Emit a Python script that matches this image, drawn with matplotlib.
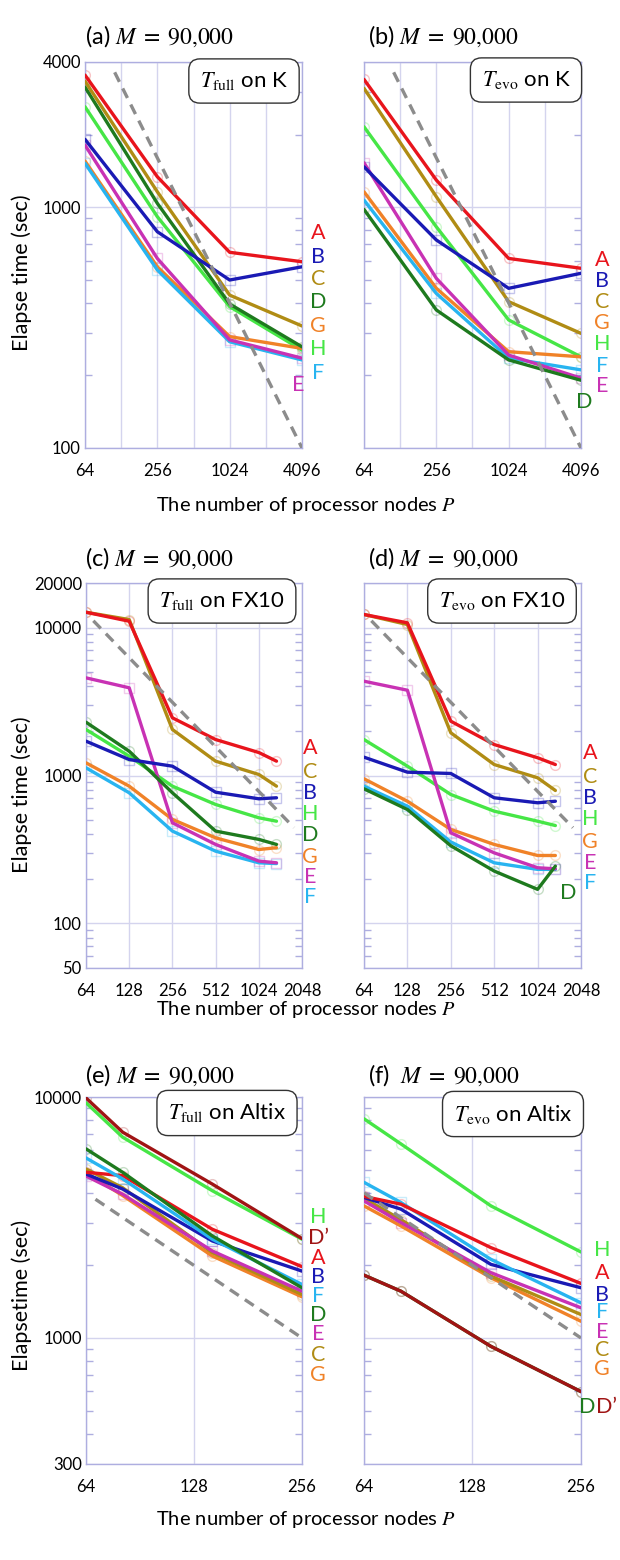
import numpy as np
import matplotlib.pyplot as plt
from matplotlib.ticker import FixedLocator, LogLocator, NullFormatter

plt.rcParams['font.family'] = ['Lato', 'DejaVu Sans']
plt.rcParams['mathtext.fontset'] = 'stix'

# ---- data (elapse time in seconds) ----
P_K = [64, 256, 1024, 4096]
P_FX = [64, 128, 256, 512, 1024, 1360]
P_ALT = [64, 81, 144, 256]

full_K = {
    'H': [2608, 912, 386, 255],
    'G': [1552, 565, 290, 259],
    'F': [1520, 548, 276, 232],
    'E': [1808, 612, 281, 236],
    'D': [3150, 1036, 396, 263],
    'C': [3330, 1157, 431, 321],
    'B': [1910, 790, 498, 565],
    'A': [3530, 1336, 649, 593],
}
evo_K = {
    'H': [2154, 828, 340, 239],
    'G': [1157, 460, 251, 239],
    'F': [1069, 438, 236, 211],
    'E': [1527, 506, 243, 195],
    'D': [978, 374, 232, 191],
    'C': [3110, 1104, 405, 299],
    'B': [1469, 730, 460, 531],
    'A': [3388, 1294, 612, 557],
}
full_FX = {
    'H': [2046, 1350, 847, 637, 518, 491],
    'G': [1218, 847, 505, 379, 316, 325],
    'F': [1127, 764, 421, 308, 257, 254],
    'E': [4571, 3915, 479, 342, 264, 257],
    'D': [2292, 1459, 764, 421, 370, 342],
    'B': [1706, 1282, 1156, 771, 696, 707],
    'C': [12690, 11320, 2046, 1250, 1016, 847],
    'A': [12690, 11030, 2454, 1750, 1430, 1250],
}
evo_FX = {
    'H': [1750, 1156, 744, 574, 491, 459],
    'G': [950, 670, 432, 342, 288, 288],
    'F': [847, 620, 355, 257, 232, 232],
    'E': [4337, 3770, 410, 300, 238, 234],
    'D': [813, 589, 335, 226, 170, 244],
    'B': [1330, 1053, 1032, 707, 654, 670],
    'C': [12250, 10480, 1944, 1186, 965, 792],
    'A': [12250, 10760, 2328, 1619, 1318, 1186],
}
full_ALT = {
    'G': [4850, 3900, 2188, 1482],
    'C': [5026, 4200, 2261, 1515],
    'E': [4700, 3950, 2296, 1564],
    'B': [4790, 4150, 2527, 1895],
    'A': [4870, 4717, 2826, 1977],
    'F': [5585, 4571, 2570, 1668],
    'D': [6093, 4870, 2651, 1616],
    'H': [9465, 6810, 4083, 2570],
    "D'": [9910, 7145, 4351, 2585],
}
evo_ALT = {
    'G': [3533, 2918, 1778, 1173],
    'C': [3800, 3100, 1806, 1251],
    'E': [3707, 3014, 1866, 1334],
    'B': [3830, 3425, 2020, 1616],
    'F': [4425, 3651, 2120, 1399],
    'A': [3868, 3592, 2371, 1684],
    'H': [8120, 6390, 3533, 2274],
    'D': [1823, 1564, 923, 599],
    "D'": [1823, 1564, 923, 599],
}

colors = {
    'A': '#e8141c', 'B': '#1a1ab4', 'C': '#b08c14', 'D': '#1e7a1e',
    'E': '#c832b4', 'F': '#28b4f0', 'G': '#f08228', 'H': '#46e646',
    "D'": '#a01414',
}
markers = {'A': 'o', 'B': 's', 'C': 'o', 'D': 'o', 'E': 's', 'F': 's',
           'G': 'o', 'H': 'o', "D'": 'o'}

W, H = 620, 1560
fig = plt.figure(figsize=(W / 100, H / 100), dpi=100)


def box(x0, y0, x1, y1):
    return [x0 / W, 1 - y1 / H, (x1 - x0) / W, (y1 - y0) / H]


def fxy(x, y):
    return x / W, 1 - y / H


grid_c = '#d4d4ee'
spine_c = '#aeaee0'


def panel(rect, P, data, ylim, yticks, ylabels, xgrid, xlabels, ideal):
    ax = fig.add_axes(box(*rect))
    ax.set_xscale('log', base=2)
    ax.set_yscale('log')
    ax.set_xlim(xgrid[0], xgrid[-1])
    ax.set_ylim(*ylim)
    for name, vals in data.items():
        ax.plot(P, vals, color=colors[name], lw=2.4, solid_capstyle='round', zorder=3)
        ax.plot(P, vals, ls='none', marker=markers[name], ms=7, mfc='none',
                mec=colors[name], mew=1.0, alpha=0.25, zorder=2)
    c, p0, p1 = ideal
    pp = np.array([p0, p1])
    ax.plot(pp, c / pp, color='#8c8c8c', lw=2.4, ls=(0, (3.2, 2.2)), zorder=4)
    ax.xaxis.set_major_locator(FixedLocator(xgrid))
    ax.set_xticklabels([str(v) if v in xlabels else '' for v in xgrid])
    ax.xaxis.set_minor_locator(FixedLocator([]))
    ax.yaxis.set_major_locator(FixedLocator(yticks))
    ax.set_yticklabels([str(v) for v in yticks] if ylabels else [''] * len(yticks))
    ax.yaxis.set_minor_locator(LogLocator(base=10, subs=range(2, 10), numticks=20))
    ax.yaxis.set_minor_formatter(NullFormatter())
    ax.tick_params(axis='x', length=0, pad=11, labelsize=12)
    ax.tick_params(axis='y', which='major', length=0, pad=3, labelsize=12)
    ax.tick_params(axis='y', which='minor', length=5, direction='in',
                   left=True, right=True, color=spine_c, width=1)
    ax.grid(True, which='major', color=grid_c, lw=1, zorder=0)
    for s in ax.spines.values():
        s.set_color(spine_c)
        s.set_linewidth(1)
    return ax


row1 = dict(P=P_K, ylim=(100, 4000), yticks=[100, 1000, 4000],
            xgrid=[64, 128, 256, 512, 1024, 2048, 4096], xlabels=[64, 256, 1024, 4096],
            ideal=(409600, 113, 4096))
row2 = dict(P=P_FX, ylim=(50, 20000), yticks=[50, 100, 1000, 10000, 20000],
            xgrid=[64, 128, 256, 512, 1024, 2048], xlabels=[64, 128, 256, 512, 1024, 2048],
            ideal=(800000, 72, 1800))
row3 = dict(P=P_ALT, ylim=(300, 10000), yticks=[300, 1000, 10000],
            xgrid=[64, 128, 256], xlabels=[64, 128, 256])

panel((85, 62, 302, 448), data=full_K, ylabels=True, **row1)
panel((364, 62, 581, 448), data=evo_K, ylabels=False, **row1)
panel((86, 583, 302, 968), data=full_FX, ylabels=True, **row2)
panel((364, 583, 581, 968), data=evo_FX, ylabels=False, **row2)
panel((86, 1097, 302, 1464), data=full_ALT, ylabels=True, ideal=(256000, 68, 256), **row3)
panel((364, 1097, 581, 1464), data=evo_ALT, ylabels=False, ideal=(256000, 64, 256), **row3)

# titles
m_txt = '$M\\;=\\;\\mathrm{90{,}000}$'
titles = [('(a) ' + m_txt, 85, 36), ('(b) ' + m_txt, 368, 36),
          ('(c) ' + m_txt, 85, 558), ('(d) ' + m_txt, 368, 558),
          ('(e) ' + m_txt, 85, 1075), ('(f)  ' + m_txt, 368, 1075)]
for t, x, y in titles:
    fig.text(*fxy(x, y), t, fontsize=17, ha='left', va='center')

# boxed captions
captions = [('$T_{\\mathrm{full}}$ on K', 244, 81), ('$T_{\\mathrm{evo}}$ on K', 526, 80),
            ('$T_{\\mathrm{full}}$ on FX10', 222, 601), ('$T_{\\mathrm{evo}}$ on FX10', 502, 601),
            ('$T_{\\mathrm{full}}$ on Altix', 227, 1113), ('$T_{\\mathrm{evo}}$ on Altix', 513, 1114)]
for t, x, y in captions:
    fig.text(*fxy(x, y), t, fontsize=16, ha='center', va='center', zorder=10,
             bbox=dict(boxstyle='round,pad=0.5,rounding_size=0.5', fc='white',
                       ec='#333333', lw=1))

# series labels at the right of each panel
labels = [
    [('A', 318, 233), ('B', 318, 257), ('C', 318, 279), ('D', 318, 302), ('G', 318, 326),
     ('H', 318, 349), ('F', 318, 373), ('E', 298, 385)],
    [('A', 602, 260), ('B', 602, 281), ('C', 602, 302), ('G', 602, 323), ('H', 602, 344),
     ('F', 602, 366), ('E', 602, 386), ('D', 584, 402)],
    [('A', 310, 748), ('C', 310, 772), ('B', 310, 793), ('H', 310, 814), ('D', 310, 835),
     ('G', 310, 857), ('E', 310, 877), ('F', 310, 897)],
    [('A', 590, 753), ('C', 590, 777), ('B', 590, 798), ('H', 590, 819), ('G', 590, 842),
     ('E', 590, 863), ('F', 590, 883), ('D', 568, 893)],
    [('H', 318, 1217), ("D'", 318, 1238), ('A', 318, 1258), ('B', 318, 1277), ('F', 318, 1296),
     ('D', 318, 1315), ('E', 318, 1334), ('C', 318, 1355), ('G', 318, 1375)],
    [('H', 602, 1250), ('A', 602, 1273), ('B', 602, 1295), ('F', 602, 1312), ('E', 602, 1332),
     ('C', 602, 1350), ('G', 602, 1369), ('D', 587, 1407), ("D'", 607, 1407)],
]
for group in labels:
    for name, x, y in group:
        txt = name.replace("'", '\u2019')
        fig.text(*fxy(x, y), txt, color=colors[name], fontsize=15.5, ha='center', va='center')

# axis labels
for y in (273, 795):
    fig.text(*fxy(22, y), 'Elapse time (sec)', fontsize=15.5, rotation=90, ha='center', va='center')
fig.text(*fxy(22, 1295), 'Elapsetime (sec)', fontsize=15.5, rotation=90, ha='center', va='center')
for y in (505, 1010, 1520):
    fig.text(*fxy(306, y), 'The number of processor nodes $P$', fontsize=14.5, ha='center', va='center')

fig.savefig('out.png', dpi=100)
